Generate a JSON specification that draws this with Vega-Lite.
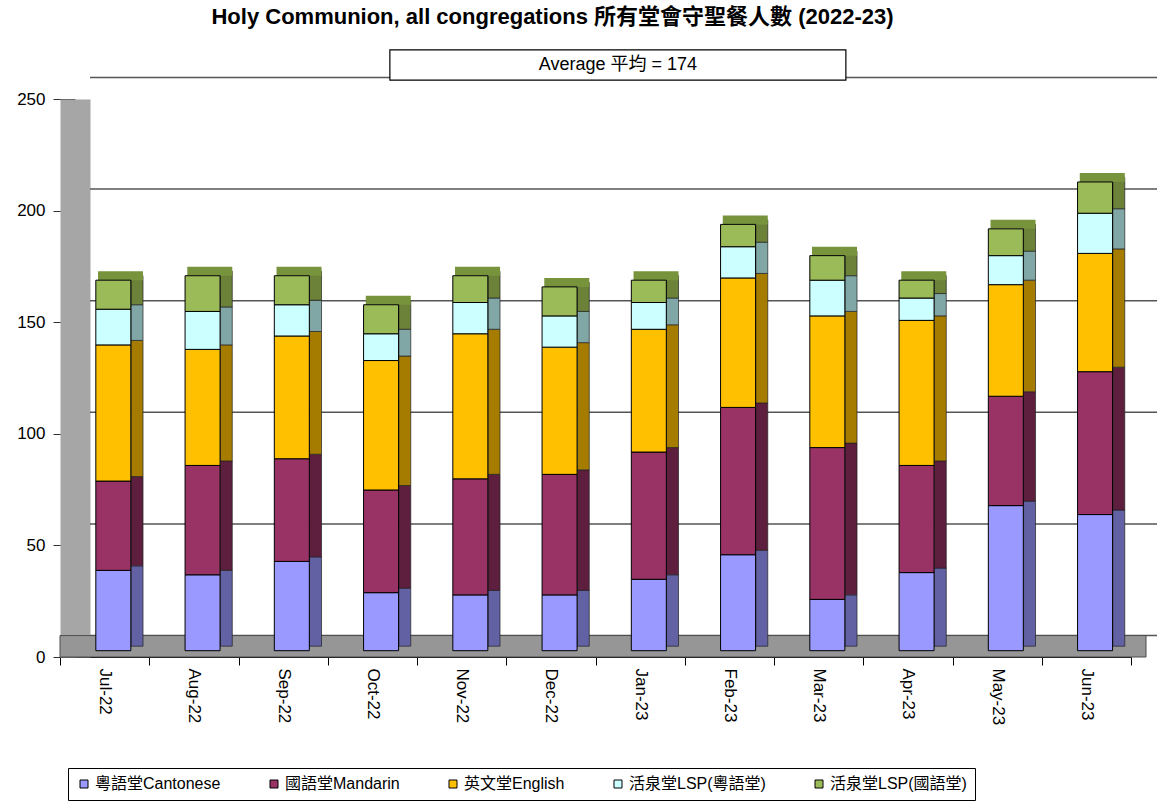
{
  "$schema": "https://vega.github.io/schema/vega-lite/v6.json",
  "width": 1071,
  "height": 558,
  "autosize": {"type": "none"},
  "padding": {"left": 60, "top": 99, "right": 26, "bottom": 145},
  "background": "white",
  "config": {
    "font": "Liberation Sans, Noto Sans CJK TC, sans-serif",
    "view": {"stroke": null}
  },
  "title": {
    "text": "Holy Communion, all congregations 所有堂會守聖餐人數 (2022-23)",
    "fontSize": 22,
    "fontWeight": "bold",
    "color": "#000000",
    "anchor": "middle",
    "dx": -43,
    "offset": 20
  },
  "datasets": {
    "bars": [
      {"m": "Jul-22", "c": "粵語堂Cantonese", "k": 1, "v": 36},
      {"m": "Jul-22", "c": "國語堂Mandarin", "k": 2, "v": 40},
      {"m": "Jul-22", "c": "英文堂English", "k": 3, "v": 61},
      {"m": "Jul-22", "c": "活泉堂LSP(粵語堂)", "k": 4, "v": 16},
      {"m": "Jul-22", "c": "活泉堂LSP(國語堂)", "k": 5, "v": 13},
      {"m": "Aug-22", "c": "粵語堂Cantonese", "k": 1, "v": 34},
      {"m": "Aug-22", "c": "國語堂Mandarin", "k": 2, "v": 49},
      {"m": "Aug-22", "c": "英文堂English", "k": 3, "v": 52},
      {"m": "Aug-22", "c": "活泉堂LSP(粵語堂)", "k": 4, "v": 17},
      {"m": "Aug-22", "c": "活泉堂LSP(國語堂)", "k": 5, "v": 16},
      {"m": "Sep-22", "c": "粵語堂Cantonese", "k": 1, "v": 40},
      {"m": "Sep-22", "c": "國語堂Mandarin", "k": 2, "v": 46},
      {"m": "Sep-22", "c": "英文堂English", "k": 3, "v": 55},
      {"m": "Sep-22", "c": "活泉堂LSP(粵語堂)", "k": 4, "v": 14},
      {"m": "Sep-22", "c": "活泉堂LSP(國語堂)", "k": 5, "v": 13},
      {"m": "Oct-22", "c": "粵語堂Cantonese", "k": 1, "v": 26},
      {"m": "Oct-22", "c": "國語堂Mandarin", "k": 2, "v": 46},
      {"m": "Oct-22", "c": "英文堂English", "k": 3, "v": 58},
      {"m": "Oct-22", "c": "活泉堂LSP(粵語堂)", "k": 4, "v": 12},
      {"m": "Oct-22", "c": "活泉堂LSP(國語堂)", "k": 5, "v": 13},
      {"m": "Nov-22", "c": "粵語堂Cantonese", "k": 1, "v": 25},
      {"m": "Nov-22", "c": "國語堂Mandarin", "k": 2, "v": 52},
      {"m": "Nov-22", "c": "英文堂English", "k": 3, "v": 65},
      {"m": "Nov-22", "c": "活泉堂LSP(粵語堂)", "k": 4, "v": 14},
      {"m": "Nov-22", "c": "活泉堂LSP(國語堂)", "k": 5, "v": 12},
      {"m": "Dec-22", "c": "粵語堂Cantonese", "k": 1, "v": 25},
      {"m": "Dec-22", "c": "國語堂Mandarin", "k": 2, "v": 54},
      {"m": "Dec-22", "c": "英文堂English", "k": 3, "v": 57},
      {"m": "Dec-22", "c": "活泉堂LSP(粵語堂)", "k": 4, "v": 14},
      {"m": "Dec-22", "c": "活泉堂LSP(國語堂)", "k": 5, "v": 13},
      {"m": "Jan-23", "c": "粵語堂Cantonese", "k": 1, "v": 32},
      {"m": "Jan-23", "c": "國語堂Mandarin", "k": 2, "v": 57},
      {"m": "Jan-23", "c": "英文堂English", "k": 3, "v": 55},
      {"m": "Jan-23", "c": "活泉堂LSP(粵語堂)", "k": 4, "v": 12},
      {"m": "Jan-23", "c": "活泉堂LSP(國語堂)", "k": 5, "v": 10},
      {"m": "Feb-23", "c": "粵語堂Cantonese", "k": 1, "v": 43},
      {"m": "Feb-23", "c": "國語堂Mandarin", "k": 2, "v": 66},
      {"m": "Feb-23", "c": "英文堂English", "k": 3, "v": 58},
      {"m": "Feb-23", "c": "活泉堂LSP(粵語堂)", "k": 4, "v": 14},
      {"m": "Feb-23", "c": "活泉堂LSP(國語堂)", "k": 5, "v": 10},
      {"m": "Mar-23", "c": "粵語堂Cantonese", "k": 1, "v": 23},
      {"m": "Mar-23", "c": "國語堂Mandarin", "k": 2, "v": 68},
      {"m": "Mar-23", "c": "英文堂English", "k": 3, "v": 59},
      {"m": "Mar-23", "c": "活泉堂LSP(粵語堂)", "k": 4, "v": 16},
      {"m": "Mar-23", "c": "活泉堂LSP(國語堂)", "k": 5, "v": 11},
      {"m": "Apr-23", "c": "粵語堂Cantonese", "k": 1, "v": 35},
      {"m": "Apr-23", "c": "國語堂Mandarin", "k": 2, "v": 48},
      {"m": "Apr-23", "c": "英文堂English", "k": 3, "v": 65},
      {"m": "Apr-23", "c": "活泉堂LSP(粵語堂)", "k": 4, "v": 10},
      {"m": "Apr-23", "c": "活泉堂LSP(國語堂)", "k": 5, "v": 8},
      {"m": "May-23", "c": "粵語堂Cantonese", "k": 1, "v": 65},
      {"m": "May-23", "c": "國語堂Mandarin", "k": 2, "v": 49},
      {"m": "May-23", "c": "英文堂English", "k": 3, "v": 50},
      {"m": "May-23", "c": "活泉堂LSP(粵語堂)", "k": 4, "v": 13},
      {"m": "May-23", "c": "活泉堂LSP(國語堂)", "k": 5, "v": 12},
      {"m": "Jun-23", "c": "粵語堂Cantonese", "k": 1, "v": 61},
      {"m": "Jun-23", "c": "國語堂Mandarin", "k": 2, "v": 64},
      {"m": "Jun-23", "c": "英文堂English", "k": 3, "v": 53},
      {"m": "Jun-23", "c": "活泉堂LSP(粵語堂)", "k": 4, "v": 18},
      {"m": "Jun-23", "c": "活泉堂LSP(國語堂)", "k": 5, "v": 14}
    ],
    "totals": [
      {"m": "Jul-22", "t": 166},
      {"m": "Aug-22", "t": 168},
      {"m": "Sep-22", "t": 168},
      {"m": "Oct-22", "t": 155},
      {"m": "Nov-22", "t": 168},
      {"m": "Dec-22", "t": 163},
      {"m": "Jan-23", "t": 166},
      {"m": "Feb-23", "t": 191},
      {"m": "Mar-23", "t": 177},
      {"m": "Apr-23", "t": 166},
      {"m": "May-23", "t": 189},
      {"m": "Jun-23", "t": 210}
    ],
    "grid": [{"g": 0}, {"g": 50}, {"g": 100}, {"g": 150}, {"g": 200}, {"g": 250}]
  },
  "layer": [
    {
      "data": {"name": "grid"},
      "mark": {"type": "rule", "color": "#555555", "strokeWidth": 1.5, "yOffset": -21.5, "xOffset": 30, "x2Offset": 30},
      "encoding": {
        "x": {"value": 0},
        "x2": {"value": "width"},
        "y": {
          "field": "g",
          "type": "quantitative",
          "scale": {"domain": [0, 250], "nice": false, "zero": true},
          "axis": {
            "values": [0, 50, 100, 150, 200, 250],
            "offset": -15,
            "domainWidth": 30,
            "domainColor": "#a6a6a6",
            "tickSize": 22,
            "tickColor": "#333333",
            "tickWidth": 1,
            "labelPadding": 8,
            "labelFontSize": 17,
            "labelColor": "#000000",
            "grid": false,
            "title": null
          }
        }
      }
    },
    {
      "data": {"values": [{}]},
      "mark": {"type": "rect", "color": "#969696", "stroke": "#4d4d4d", "strokeWidth": 1, "xOffset": 15, "x2Offset": 15},
      "encoding": {
        "y": {"datum": 0},
        "y2": {"datum": 9.6}
      }
    },
    {
      "data": {"name": "bars"},
      "mark": {"type": "bar", "width": 12, "xOffset": 32.4, "x2Offset": 32.4, "yOffset": -10.8, "y2Offset": -10.8, "stroke": "#222222", "strokeWidth": 0.7},
      "encoding": {
        "x": {"field": "m", "type": "nominal"},
        "y": {"field": "v", "type": "quantitative", "stack": "zero"},
        "order": {"field": "k", "type": "quantitative"},
        "color": {
          "field": "c",
          "type": "nominal",
          "scale": {
            "domain": ["粵語堂Cantonese", "國語堂Mandarin", "英文堂English", "活泉堂LSP(粵語堂)", "活泉堂LSP(國語堂)"],
            "range": ["#6161a3", "#5e1f3f", "#a67c00", "#80a6a6", "#6b8238"]
          },
          "legend": null
        }
      }
    },
    {
      "data": {"name": "totals"},
      "mark": {"type": "bar", "width": 45, "xOffset": 15.9, "x2Offset": 15.9, "yOffset": -15.3, "y2Offset": -6.3, "color": "#77933c"},
      "encoding": {
        "x": {"field": "m", "type": "nominal"},
        "y": {"field": "t", "type": "quantitative"},
        "y2": {"field": "t"}
      }
    },
    {
      "data": {"name": "bars"},
      "mark": {"type": "bar", "width": 35, "xOffset": 8.7, "x2Offset": 8.7, "yOffset": -6.3, "y2Offset": -6.3, "stroke": "#000000", "strokeWidth": 1},
      "encoding": {
        "x": {
          "field": "m",
          "type": "nominal",
          "scale": {
            "domain": ["Jul-22", "Aug-22", "Sep-22", "Oct-22", "Nov-22", "Dec-22", "Jan-23", "Feb-23", "Mar-23", "Apr-23", "May-23", "Jun-23"],
            "paddingInner": 0,
            "paddingOuter": 0
          },
          "axis": {
            "title": null,
            "labelAngle": 90,
            "labelAlign": "left",
            "labelBaseline": "middle",
            "labelFontSize": 17,
            "labelColor": "#000000",
            "labelPadding": 3,
            "tickBand": "extent",
            "tickSize": 8,
            "tickColor": "#000000",
            "domainColor": "#000000",
            "domainWidth": 1
          }
        },
        "y": {"field": "v", "type": "quantitative", "stack": "zero"},
        "order": {"field": "k", "type": "quantitative"},
        "color": {
          "field": "c",
          "type": "nominal",
          "scale": {
            "domain": ["粵語堂Cantonese", "國語堂Mandarin", "英文堂English", "活泉堂LSP(粵語堂)", "活泉堂LSP(國語堂)"],
            "range": ["#9999ff", "#993366", "#ffc000", "#ccffff", "#9bbb59"]
          },
          "legend": {
            "title": null,
            "orient": "none",
            "direction": "horizontal",
            "columns": 5,
            "legendX": 8,
            "legendY": 669,
            "padding": 8,
            "strokeColor": "#000000",
            "fillColor": "#ffffff",
            "symbolType": "square",
            "symbolSize": 64,
            "symbolStrokeColor": "#000000",
            "symbolStrokeWidth": 1,
            "symbolOpacity": 1,
            "labelFontSize": 16,
            "labelColor": "#000000",
            "labelOffset": 3,
            "labelLimit": 300,
            "columnPadding": 45
          }
        }
      }
    },
    {
      "data": {"values": [{}]},
      "mark": {"type": "bar", "width": 456, "xOffset": 67, "x2Offset": 67, "fill": "#ffffff", "stroke": "#000000", "strokeWidth": 1.2},
      "encoding": {
        "x": {"datum": "Dec-22", "type": "nominal"},
        "y": {"datum": 258.5},
        "y2": {"datum": 272}
      }
    },
    {
      "data": {"values": [{}]},
      "mark": {"type": "text", "xOffset": 67, "fontSize": 18, "color": "#000000", "baseline": "middle", "align": "center"},
      "encoding": {
        "x": {"datum": "Dec-22", "type": "nominal"},
        "y": {"datum": 265.2},
        "text": {"value": "Average  平均 = 174"}
      }
    }
  ],
  "resolve": {"scale": {"color": "independent"}}
}
